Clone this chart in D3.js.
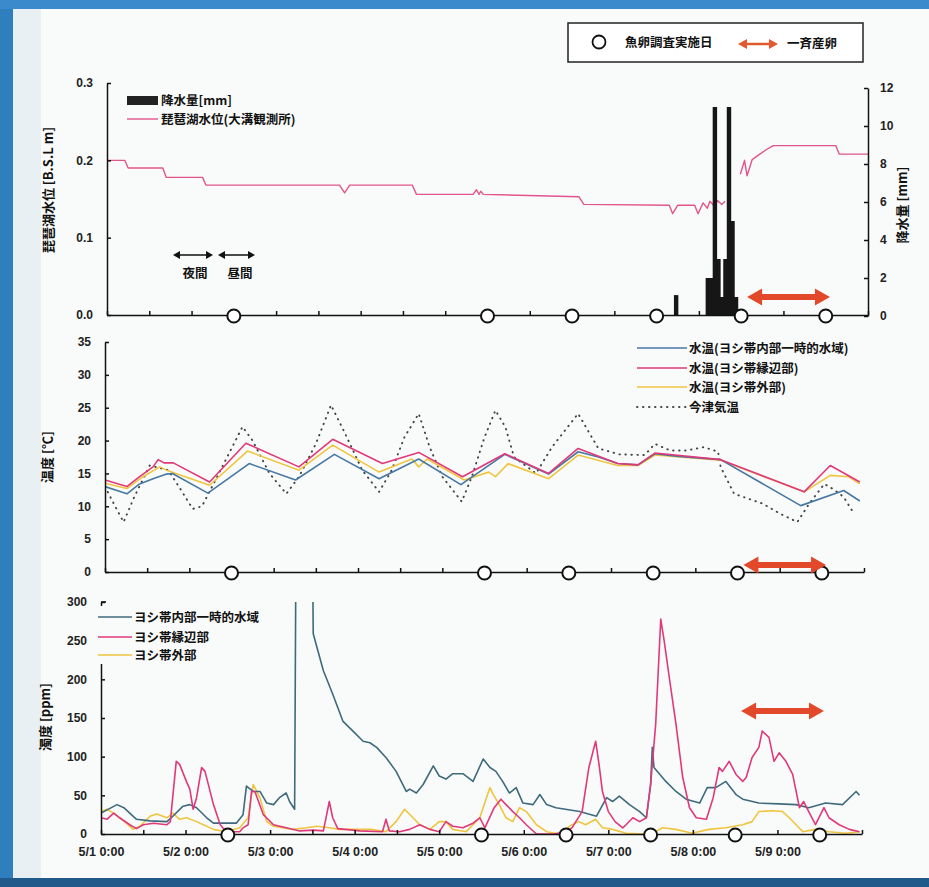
<!DOCTYPE html>
<meta charset="utf-8">
<style>
body { margin: 0; background: #fff; }
svg { font-family: "Noto Sans CJK JP", sans-serif; font-weight: bold; }
.axis path, .axis line { stroke: #111; stroke-width: 1.5; }
.axis text { font-family: "Liberation Sans", Arial, sans-serif; font-size: 12px; font-weight: bold; fill: #222; }
.lbl { font-size: 12.5px; fill: #111; }
</style>
<body>
<script src="https://d3js.org/d3.v7.min.js"></script>
<script>
var width = 929, height = 887;
var t0 = new Date(2006, 4, 1);
function day(d) { return new Date(+t0 + d * 864e5); }

// --- data (day offset from 5/1 0:00, value) ---
// fish egg survey days and mass spawning period
var surveyDays = [1.5, 4.5, 5.5, 6.5, 7.5, 8.5];
var spawnPeriod = [7.57, 8.55];

// precipitation [mm], hourly (hours from 5/1 0:00)
var rainHour = [161, 170, 171, 172, 173, 174, 175, 176, 177, 178];
var rainMm   = [1.1, 2.0, 2.0, 11.0, 3.0, 1.0, 3.0, 11.0, 5.0, 1.0];

// lake Biwa level at Omizo [B.S.L m]
var lakeDay = [0, 0.21, 0.25, 0.66, 0.70, 1.13, 1.17, 2.75, 2.81, 2.87, 3.61, 3.66, 4.33, 4.37, 4.40, 4.42, 4.45,
  5.58, 5.64, 6.65, 6.69, 6.75, 6.95, 6.99, 7.05, 7.10, 7.13, 7.19, 7.22, 7.27, 7.31, 7.32, 7.46,
  7.49, 7.54, 7.57, 7.63, 7.72, 7.80, 7.88, 8.62, 8.66, 9.0];
var lakeLevel = [0.200, 0.200, 0.190, 0.190, 0.178, 0.178, 0.168, 0.168, 0.158, 0.168, 0.168, 0.156, 0.156, 0.162, 0.156, 0.160, 0.156,
  0.153, 0.143, 0.142, 0.131, 0.142, 0.142, 0.131, 0.145, 0.138, 0.147, 0.140, 0.148, 0.143, 0.147, null, null,
  0.182, 0.200, 0.180, 0.201, 0.208, 0.214, 0.219, 0.219, 0.208, 0.208];

// water / air temperature [deg C]
var tempInner = [[0,13.0],[0.26,11.9],[0.41,13.4],[0.57,14.2],[0.73,14.9],[0.8,15.0],[1.22,12.0],[1.71,16.5],[2.26,14.0],[2.72,17.9],
  [3.25,14.2],[3.72,17.2],[4.22,13.3],[4.74,17.9],[5.26,14.9],[5.61,18.3],[5.85,17.5],[6.08,16.5],[6.32,16.3],[6.52,18.0],
  [6.8,17.6],[7.3,17.1],[8.25,10.1],[8.76,12.4],[8.95,10.8]];
var tempEdge = [[0,14.0],[0.26,13.0],[0.41,14.5],[0.57,16.0],[0.63,17.1],[0.7,16.6],[0.81,16.6],[1.24,13.7],[1.67,19.6],[2.30,16.0],
  [2.70,20.2],[3.29,16.5],[3.72,18.2],[4.24,14.5],[4.74,18.0],[5.26,15.0],[5.61,18.8],[6.08,16.5],[6.32,16.3],[6.52,18.1],
  [7.3,17.1],[8.29,12.2],[8.6,16.2],[8.95,13.7]];
var tempOuter = [[0,13.5],[0.26,12.7],[0.45,14.5],[0.65,16.0],[0.73,15.5],[1.24,13.2],[1.69,18.4],[2.3,15.5],[2.7,19.3],[3.25,15.2],
  [3.64,17.2],[3.72,16.0],[3.82,17.2],[4.26,14.0],[4.55,15.2],[4.63,14.5],[4.78,16.5],[5.26,14.2],[5.61,17.8],[6.08,16.2],
  [6.32,16.2],[6.52,17.8],[7.3,17.0],[8.29,12.2],[8.6,14.7],[8.82,14.5],[8.95,13.4]];
var tempAir = [[0,13.0],[0.1,10.5],[0.22,7.6],[0.35,11.5],[0.53,16.2],[0.75,15.5],[0.9,12.5],[1.04,9.6],[1.15,10.0],[1.35,15.0],
  [1.63,22.1],[1.75,20.0],[1.95,15.0],[2.15,11.9],[2.3,14.5],[2.5,19.5],[2.68,25.4],[2.85,21.0],[3.05,15.5],[3.25,12.2],
  [3.4,15.5],[3.55,20.5],[3.72,24.1],[3.85,19.0],[4.0,14.5],[4.23,10.7],[4.35,14.5],[4.5,20.5],[4.63,24.6],[4.75,22.0],
  [4.85,17.5],[5.11,15.0],[5.3,19.0],[5.61,24.1],[5.85,18.8],[6.1,17.9],[6.4,17.8],[6.52,19.5],[6.7,18.5],[6.9,18.5],
  [7.1,19.0],[7.27,18.3],[7.3,16.0],[7.46,11.9],[7.8,10.4],[8.0,8.9],[8.21,7.6],[8.35,10.4],[8.53,13.4],[8.65,12.5],
  [8.76,11.4],[8.88,8.9]];

// turbidity [ppm]
var turbInner = [[0,27],[0.19,38],[0.27,34],[0.42,19],[0.58,17],[0.78,16],[0.85,23],[0.97,36],[1.05,38],[1.13,34],[1.25,21],
  [1.33,14],[1.6,14],[1.68,25],[1.72,62],[1.8,55],[1.88,55],[1.96,40],[2.04,38],[2.11,47],[2.19,53],[2.23,42],[2.29,32],
  [2.33,900],[2.46,900],[2.51,259],[2.63,211],[2.74,181],[2.86,146],[2.98,133],[3.1,120],[3.18,118],[3.26,112],[3.37,99],
  [3.49,81],[3.61,55],[3.65,58],[3.73,53],[3.81,64],[3.93,88],[4.0,75],[4.08,71],[4.16,78],[4.28,78],[4.4,68],[4.52,97],
  [4.6,86],[4.67,81],[4.75,68],[4.83,53],[4.91,60],[4.99,40],[5.11,38],[5.19,51],[5.27,38],[5.38,34],[5.66,29],[5.86,23],
  [5.98,47],[6.05,42],[6.13,49],[6.25,38],[6.37,29],[6.45,21],[6.5,64],[6.52,112],[6.54,86],[6.68,68],[6.8,55],[6.92,45],
  [7.08,40],[7.17,60],[7.27,60],[7.39,68],[7.51,51],[7.59,45],[7.78,40],[8.02,39],[8.22,38],[8.37,34],[8.57,40],[8.77,38],
  [8.93,55],[8.97,50]];
var turbEdge = [[0,21],[0.07,19],[0.15,27],[0.22,21],[0.34,12],[0.42,7],[0.5,12],[0.62,14],[0.78,12],[0.82,16],[0.89,94],
  [0.93,90],[1.01,68],[1.05,58],[1.09,32],[1.13,47],[1.19,86],[1.23,81],[1.33,38],[1.41,12],[1.48,3],[1.64,3],[1.68,8],
  [1.74,12],[1.78,55],[1.82,55],[1.92,25],[2.04,12],[2.19,8],[2.35,4],[2.51,5],[2.63,4],[2.7,42],[2.74,21],[2.8,7],[3.06,4],
  [3.33,3],[3.37,19],[3.41,4],[3.53,3],[3.65,6],[3.77,12],[3.89,6],[4.0,3],[4.08,16],[4.16,10],[4.28,8],[4.4,14],[4.48,21],
  [4.54,8],[4.65,34],[4.73,45],[4.79,38],[4.87,29],[4.95,21],[5.03,12],[5.15,0],[5.35,0],[5.5,3],[5.57,8],[5.69,29],[5.77,86],
  [5.85,120],[5.89,90],[5.93,55],[6.0,29],[6.08,16],[6.17,8],[6.21,12],[6.29,21],[6.37,16],[6.45,21],[6.5,64],[6.56,142],
  [6.62,278],[6.66,250],[6.72,203],[6.8,142],[6.88,73],[6.96,34],[7.04,21],[7.16,19],[7.24,47],[7.31,86],[7.35,81],[7.43,94],
  [7.51,77],[7.59,68],[7.63,73],[7.70,99],[7.78,112],[7.82,133],[7.9,125],[7.96,94],[8.02,105],[8.1,94],[8.18,77],[8.26,34],
  [8.31,42],[8.37,29],[8.45,12],[8.55,34],[8.61,21],[8.73,12],[8.85,6],[8.97,3]];
var turbOuter = [[0,29],[0.07,32],[0.15,27],[0.3,14],[0.38,6],[0.46,10],[0.58,23],[0.66,26],[0.78,21],[0.85,27],[0.93,19],
  [1.01,21],[1.13,16],[1.21,12],[1.33,6],[1.48,3],[1.64,8],[1.74,21],[1.8,64],[1.88,47],[1.96,16],[2.04,10],[2.27,6],[2.43,8],
  [2.55,10],[2.7,8],[2.82,6],[3.05,6],[3.2,6],[3.37,3],[3.49,16],[3.59,32],[3.69,21],[3.77,12],[3.89,6],[4.0,16],[4.08,16],
  [4.16,6],[4.32,3],[4.4,12],[4.48,21],[4.6,60],[4.64,51],[4.71,38],[4.79,21],[4.87,16],[4.95,34],[5.03,29],[5.15,12],[5.27,3],
  [5.42,0],[5.57,12],[5.65,16],[5.73,12],[5.85,19],[5.93,8],[6.05,6],[6.21,1],[6.45,0],[6.56,3],[6.64,8],[6.8,6],[6.99,1],
  [7.19,6],[7.39,8],[7.59,12],[7.70,16],[7.78,29],[7.94,30],[8.06,29],[8.14,21],[8.22,12],[8.3,3],[8.45,6],[8.61,3],[8.81,1],
  [8.97,3]];

var levelTicks = [0, 0.1, 0.2, 0.3];
var rainTicks = [0, 2, 4, 6, 8, 10, 12];
var tempTicks = [0, 5, 10, 15, 20, 25, 30, 35];
var turbTicks = [0, 50, 100, 150, 200, 250, 300];

var cInnerT = "#4777a3", cInner = "#3f6a7c", cEdge = "#e0397a", cOuter = "#efc53f", cAir = "#444",
    cLevel = "#e2558a", cSpawn = "#e2482a";

var svg = d3.select("body").append("svg")
  .attr("width", width)
  .attr("height", height);

// page / scan frame
svg.append("rect").attr("width", width).attr("height", height).attr("fill", "#f9fbfa");
svg.append("rect").attr("x", 13).attr("width", 28).attr("height", height).attr("fill", "#e9f0f3");
svg.append("rect").attr("width", 13).attr("height", height).attr("fill", "#2f7fbf");
svg.append("rect").attr("width", width).attr("height", 9).attr("fill", "#3b8bcc");
svg.append("rect").attr("y", 878).attr("width", width).attr("height", 9).attr("fill", "#1f5a8a");

var panels = {
  top: { left: 107, right: 868, bottom: 315, top: 83 },
  mid: { left: 105, right: 864, bottom: 572, top: 342 },
  bot: { left: 101, right: 862, bottom: 834, top: 602 }
};

function xScale(p) {
  return d3.scaleTime().domain([day(0), day(9)]).range([p.left, p.right]);
}

function xAxis(p, x, labels) {
  var fmt = d3.timeFormat("%-m/%-d %-H:%M");
  var ax = d3.axisBottom(x)
    .ticks(d3.timeHour.every(12))
    .tickSize(-4)
    .tickSizeOuter(0)
    .tickPadding(13)
    .tickFormat(function(d) {
      return labels && d.getHours() === 0 && +d < +day(9) ? fmt(d) : "";
    });
  var g = svg.append("g").attr("class", "axis")
    .attr("transform", "translate(0," + p.bottom + ")")
    .call(ax);
  g.selectAll("text").style("font-size", "12.5px");
  return g;
}

function yAxisLeft(p, y, ticks, format) {
  svg.append("g").attr("class", "axis")
    .attr("transform", "translate(" + p.left + ",0)")
    .call(d3.axisLeft(y).tickValues(ticks).tickSize(-4).tickSizeOuter(0).tickPadding(14).tickFormat(format));
}

function surveyCircles(p, x) {
  svg.append("g").selectAll("circle")
    .data(surveyDays)
    .enter().append("circle")
    .attr("cx", function(d) { return x(day(d)); })
    .attr("cy", p.bottom + 1)
    .attr("r", 6.5)
    .attr("fill", "#fff")
    .attr("stroke", "#111")
    .attr("stroke-width", 2);
}

function dblArrow(x1, x2, y, shaft, headLen, headHalf, color) {
  var p = d3.path();
  p.moveTo(x1, y);
  p.lineTo(x1 + headLen, y - headHalf);
  p.lineTo(x1 + headLen, y - shaft / 2);
  p.lineTo(x2 - headLen, y - shaft / 2);
  p.lineTo(x2 - headLen, y - headHalf);
  p.lineTo(x2, y);
  p.lineTo(x2 - headLen, y + headHalf);
  p.lineTo(x2 - headLen, y + shaft / 2);
  p.lineTo(x1 + headLen, y + shaft / 2);
  p.lineTo(x1 + headLen, y + headHalf);
  p.closePath();
  svg.append("path").attr("d", p.toString()).attr("fill", color);
}

function spawnArrow(x, yPix) {
  dblArrow(x(day(spawnPeriod[0])), x(day(spawnPeriod[1])), yPix, 6, 15, 8.5, cSpawn);
}

function clip(id, p) {
  svg.append("clipPath").attr("id", id).append("rect")
    .attr("x", p.left).attr("y", p.top)
    .attr("width", p.right - p.left).attr("height", p.bottom - p.top);
}

function series(x, y, data, color, w, clipId, dash) {
  var line = d3.line()
    .defined(function(d) { return d[1] != null; })
    .x(function(d) { return x(day(d[0])); })
    .y(function(d) { return y(d[1]); });
  var path = svg.append("path")
    .datum(data)
    .attr("fill", "none")
    .attr("stroke", color)
    .attr("stroke-width", w)
    .attr("stroke-linejoin", "round")
    .attr("d", line);
  if (clipId) path.attr("clip-path", "url(#" + clipId + ")");
  if (dash) path.attr("stroke-dasharray", dash).attr("stroke-linecap", "round");
  return path;
}

function legendRow(x1, x2, y, color, text, dash, w) {
  var l = svg.append("line").attr("x1", x1).attr("x2", x2).attr("y1", y).attr("y2", y)
    .attr("stroke", color).attr("stroke-width", w || 1.6);
  if (dash) l.attr("stroke-dasharray", dash).attr("stroke-linecap", "round");
  svg.append("text").attr("class", "lbl").attr("x", x2 + 2).attr("y", y + 4.5).text(text);
}

function yTitle(x, y, text) {
  svg.append("text")
    .attr("transform", "translate(" + x + "," + y + ") rotate(-90)")
    .attr("text-anchor", "middle")
    .style("font-size", "13px")
    .attr("fill", "#111")
    .text(text);
}

// ---------- top panel: lake level and precipitation ----------
var pT = panels.top;
var xT = xScale(pT);
var yLevel = d3.scaleLinear().domain([0, 0.3]).range([pT.bottom, pT.top]);
var yRain = d3.scaleLinear().domain([0, 12]).range([pT.bottom + 1, pT.top + 5]);

series(xT, yLevel, lakeDay.map(function(d, i) { return [d, lakeLevel[i]]; }), cLevel, 1.4);

svg.append("g").selectAll("rect")
  .data(rainHour.map(function(h, i) { return { h: h, mm: rainMm[i] }; }))
  .enter().append("rect")
  .attr("x", function(d) { return xT(day(d.h / 24)) - 0.3; })
  .attr("width", function(d) { return xT(day((d.h + 1) / 24)) - xT(day(d.h / 24)) + 0.9; })
  .attr("y", function(d) { return yRain(d.mm); })
  .attr("height", function(d) { return yRain(0) - yRain(d.mm); })
  .attr("fill", "#161616");

xAxis(pT, xT, false);
yAxisLeft(pT, yLevel, levelTicks, d3.format(".1f"));
svg.append("g").attr("class", "axis")
  .attr("transform", "translate(" + pT.right + ",0)")
  .call(d3.axisRight(yRain).tickValues(rainTicks).tickSize(-4).tickSizeOuter(0).tickPadding(12));
surveyCircles(pT, xT);
spawnArrow(xT, 297);

yTitle(53, 190, "琵琶湖水位 [B.S.L m]");
yTitle(907, 205, "降水量 [mm]");

svg.append("rect").attr("x", 127).attr("y", 96).attr("width", 31).attr("height", 9).attr("fill", "#222");
svg.append("text").attr("class", "lbl").attr("x", 161).attr("y", 105).text("降水量[mm]");
svg.append("line").attr("x1", 127).attr("x2", 158).attr("y1", 119).attr("y2", 119)
  .attr("stroke", cLevel).attr("stroke-width", 1.4);
svg.append("text").attr("class", "lbl").attr("x", 161).attr("y", 124).text("琵琶湖水位(大溝観測所)");

// night / daytime marks
dblArrow(173, 213, 255, 1.6, 7, 4, "#111");
dblArrow(218, 255, 255, 1.6, 7, 4, "#111");
svg.append("text").attr("class", "lbl").attr("x", 195).attr("y", 278).attr("text-anchor", "middle").text("夜間");
svg.append("text").attr("class", "lbl").attr("x", 240).attr("y", 278).attr("text-anchor", "middle").text("昼間");

// top legend box
svg.append("rect").attr("x", 568).attr("y", 23).attr("width", 295).attr("height", 39)
  .attr("fill", "#fff").attr("stroke", "#222").attr("stroke-width", 1.5);
svg.append("circle").attr("cx", 599).attr("cy", 42).attr("r", 6.5)
  .attr("fill", "#fff").attr("stroke", "#111").attr("stroke-width", 1.8);
svg.append("text").attr("class", "lbl").attr("x", 625).attr("y", 47).text("魚卵調査実施日");
dblArrow(738, 778, 44, 2.5, 9, 5, "#e05a30");
svg.append("text").attr("class", "lbl").attr("x", 787).attr("y", 48).text("一斉産卵");

// ---------- middle panel: temperature ----------
var pM = panels.mid;
var xM = xScale(pM);
var yTemp = d3.scaleLinear().domain([0, 35]).range([pM.bottom, pM.top]);
clip("clipM", pM);

series(xM, yTemp, tempAir, cAir, 1.9, "clipM", "0.5,5.5");
series(xM, yTemp, tempOuter, cOuter, 1.6, "clipM");
series(xM, yTemp, tempInner, cInnerT, 1.6, "clipM");
series(xM, yTemp, tempEdge, cEdge, 1.6, "clipM");

xAxis(pM, xM, false);
yAxisLeft(pM, yTemp, tempTicks, d3.format("d"));
surveyCircles(pM, xM);
spawnArrow(xM, 565);
yTitle(52, 457, "温度 [℃]");

legendRow(637, 687, 348, cInnerT, "水温(ヨシ帯内部一時的水域)");
legendRow(637, 687, 368, cEdge, "水温(ヨシ帯縁辺部)");
legendRow(637, 687, 387, cOuter, "水温(ヨシ帯外部)");
legendRow(637, 687, 407, cAir, "今津気温", "0.5,5.5", 1.9);

// ---------- bottom panel: turbidity ----------
var pB = panels.bot;
var xB = xScale(pB);
var yTurb = d3.scaleLinear().domain([0, 300]).range([pB.bottom, pB.top]);
clip("clipB", pB);

series(xB, yTurb, turbOuter, cOuter, 1.6, "clipB");
series(xB, yTurb, turbInner, cInner, 1.6, "clipB");
series(xB, yTurb, turbEdge, cEdge, 1.6, "clipB");

xAxis(pB, xB, true);
yAxisLeft(pB, yTurb, turbTicks, d3.format("d"));
surveyCircles(pB, xB);
spawnArrow(xB, yTurb(159));
yTitle(50, 717, "濁度 [ppm]");

svg.append("rect").attr("x", 96).attr("y", 606).attr("width", 190).attr("height", 58).attr("fill", "#f9fbfa");
svg.append("line").attr("x1", pB.left).attr("x2", pB.left + 5).attr("y1", pB.top).attr("y2", pB.top)
  .attr("stroke", "#111").attr("stroke-width", 1.5);
legendRow(98, 132, 617, cInner, "ヨシ帯内部一時的水域");
legendRow(98, 132, 637, cEdge, "ヨシ帯縁辺部");
legendRow(98, 132, 655, cOuter, "ヨシ帯外部");
</script>
